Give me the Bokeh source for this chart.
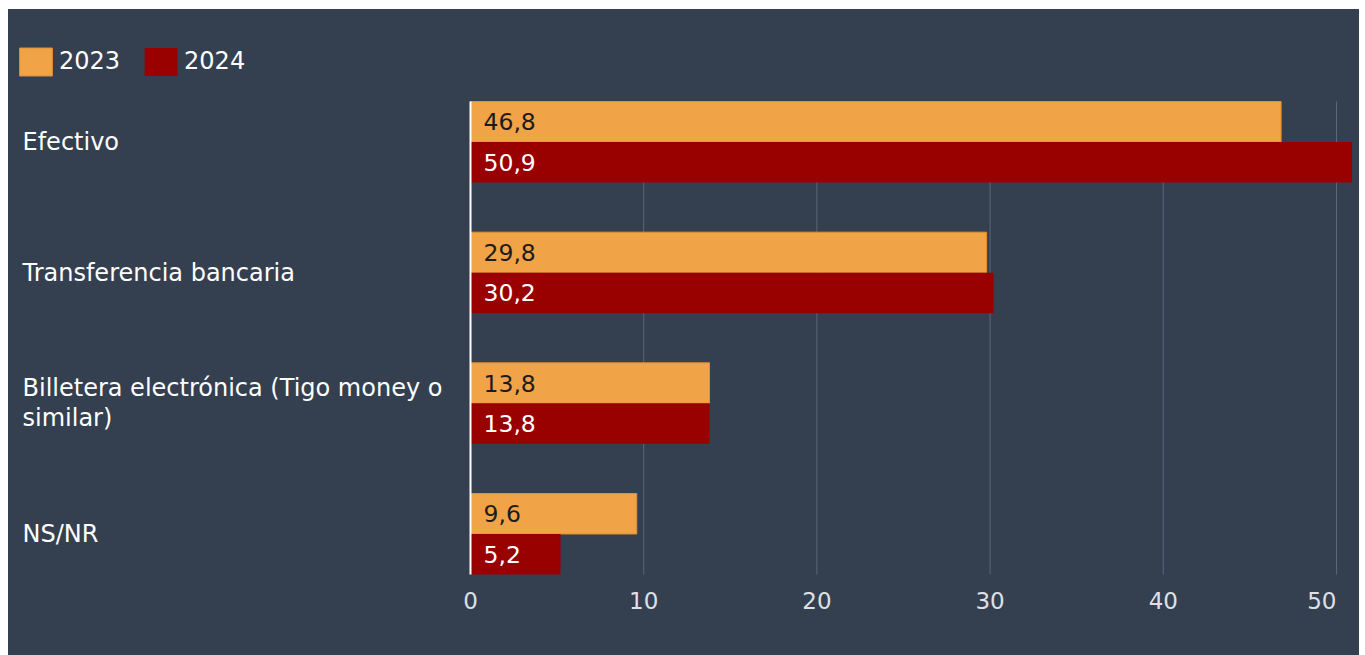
from bokeh.plotting import figure
from bokeh.models import ColumnDataSource, Range1d, LabelSet, Legend, LegendItem
from bokeh.transform import dodge
from bokeh.embed import file_html
from bokeh.resources import INLINE
from bokeh.core.properties import value

# ---- data ----
categories = ["Efectivo", "Transferencia bancaria",
              "Billetera electrónica (Tigo money o\nsimilar)", "NS/NR"]
values_2023 = [46.8, 29.8, 13.8, 9.6]
values_2024 = [50.9, 30.2, 13.8, 5.2]
series_names = ["2023", "2024"]
x_ticks = [0, 10, 20, 30, 40, 50]

# ---- style ----
BG = "#344050"
ORANGE = "#F0A347"
ORANGE_EDGE = "#E0902F"
RED = "#990000"
GRID = "#5b6777"
FONT = "DejaVu Sans"

W, H = 1351, 646
PLOT_LEFT = 462          # px where value 0 sits
PX_PER_UNIT = 17.32
PLOT_TOP = 92
PLOT_BOTTOM = 565        # px from top where bars end
TICK_LABEL_Y = 591       # px from top, centre of x tick labels
BAR = 0.31
n = len(categories)
PX_PER_CAT = (PLOT_BOTTOM - PLOT_TOP) / (n - 1 + 2 * BAR)

pos = [n - 1 - i for i in range(n)]


def fmt(v):
    return f"{v:.1f}".replace(".", ",")


src = ColumnDataSource(dict(
    cat=categories, pos=pos,
    v23=values_2023, v24=values_2024,
    l23=[fmt(v) for v in values_2023], l24=[fmt(v) for v in values_2024],
))

x_lo = -PLOT_LEFT / PX_PER_UNIT
x_hi = (W - PLOT_LEFT) / PX_PER_UNIT
y_lo = -BAR - (H - PLOT_BOTTOM) / PX_PER_CAT
y_hi = -BAR + PLOT_BOTTOM / PX_PER_CAT

p = figure(width=W, height=H,
           x_range=Range1d(x_lo, x_hi), y_range=Range1d(y_lo, y_hi),
           output_backend="svg", toolbar_location=None,
           min_border_left=0, min_border_right=0,
           min_border_top=0, min_border_bottom=0)
p.styles = {"margin-left": "8px", "margin-top": "9px", "background-color": BG}
p.background_fill_color = BG
p.border_fill_color = BG
p.outline_line_color = None
p.xaxis.visible = False
p.yaxis.visible = False
p.xgrid.visible = False
p.ygrid.visible = False

# grid lines limited to the bar area
grid_src = ColumnDataSource(dict(x=x_ticks[1:]))
p.segment(x0="x", x1="x", y0=-BAR, y1=n - 1 + BAR, line_color=GRID,
          line_width=1, source=grid_src)

r23 = p.hbar(y=dodge("pos", BAR / 2), left=0, right="v23", height=BAR,
             fill_color=ORANGE, line_color=ORANGE_EDGE, line_width=1, source=src)
r24 = p.hbar(y=dodge("pos", -BAR / 2), left=0, right="v24", height=BAR,
             fill_color=RED, line_color=None, source=src)

# white baseline at 0
p.segment(x0=0, x1=0, y0=-BAR, y1=n - 1 + BAR, line_color="white", line_width=2)

# x tick labels (last one kept inside the chart, as in the original)
tick_src = ColumnDataSource(dict(
    x=x_ticks, text=[str(t) for t in x_ticks],
    align=["right" if t == x_ticks[-1] else "center" for t in x_ticks],
))
p.add_layout(LabelSet(x="x", y=H - TICK_LABEL_Y, y_units="screen", text="text",
                      source=tick_src,
                      text_font=value(FONT), text_font_size="23px", text_color="#dde1e6",
                      text_align="align", text_baseline="middle"))

# category labels
p.add_layout(LabelSet(x=14, y="pos", x_units="screen", text="cat", source=src,
                      text_font=value(FONT), text_font_size="24px", text_color="white",
                      text_align="left", text_baseline="middle", text_line_height=1.08))

# value labels
p.add_layout(LabelSet(x=0, x_offset=13, y=dodge("pos", BAR / 2), text="l23", source=src,
                      text_font=value(FONT), text_font_size="23.5px", text_color="#1c1c1c",
                      text_align="left", text_baseline="middle"))
p.add_layout(LabelSet(x=0, x_offset=13, y=dodge("pos", -BAR / 2), text="l24", source=src,
                      text_font=value(FONT), text_font_size="23.5px", text_color="white",
                      text_align="left", text_baseline="middle"))

legend = Legend(items=[LegendItem(label=series_names[0], renderers=[r23]),
                       LegendItem(label=series_names[1], renderers=[r24])],
                location=(7, H - 69.5), orientation="horizontal",
                glyph_width=41, glyph_height=35, label_height=35,
                label_standoff=3, spacing=20, padding=0, margin=0,
                background_fill_alpha=0, border_line_alpha=0,
                label_text_font=FONT, label_text_font_size="24px",
                label_text_color="white")
p.add_layout(legend)

open("out.html", "w").write(file_html(p, INLINE))
